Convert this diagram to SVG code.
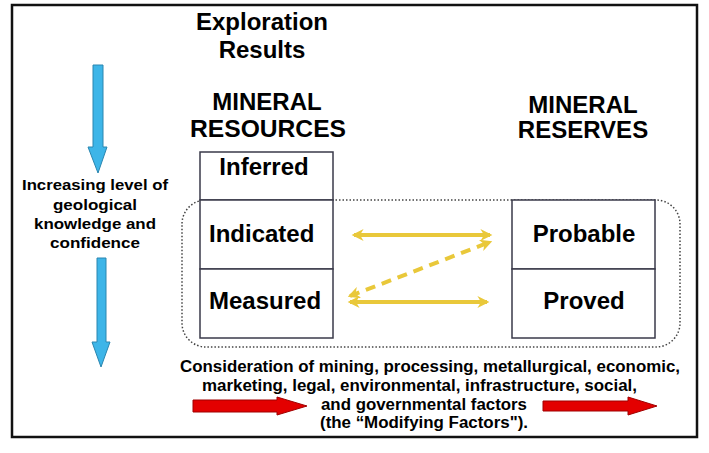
<svg xmlns="http://www.w3.org/2000/svg" width="709" height="453" viewBox="0 0 709 453">
<style>
.t{font-family:"Liberation Sans",Arial,sans-serif;font-weight:bold;fill:#000}
.h{font-size:24px}
.s{font-size:15px}
.b{font-size:16px}
.box{fill:#fff;stroke:#3a3a4a;stroke-width:1.5}
.blue{fill:#3db5e8;stroke:#2a86b0;stroke-width:1}
.red{fill:#e30000;stroke:#a00000;stroke-width:1}
.y{stroke:#e9c83a;stroke-width:4;fill:none}
</style>
<defs>
<marker id="ah" viewBox="0 0 10 10" refX="8" refY="5" markerWidth="3.2" markerHeight="3" orient="auto-start-reverse" markerUnits="strokeWidth">
<path d="M0,0 L10,5 L0,10 L3,5 Z" fill="#e9c83a"/>
</marker>
</defs>
<rect x="0" y="0" width="709" height="453" fill="#fff"/>
<rect id="frame" x="12" y="5" width="685" height="432" fill="none" stroke="#111" stroke-width="2.5"/>

<g id="title">
<text class="t h" x="262" y="30" text-anchor="middle">Exploration</text>
<text class="t h" x="262" y="58" text-anchor="middle">Results</text>
</g>
<g id="resources-head">
<text class="t h" x="267" y="110" text-anchor="middle">MINERAL</text>
<text class="t h" x="268" y="137" text-anchor="middle" textLength="156" lengthAdjust="spacingAndGlyphs">RESOURCES</text>
</g>
<g id="reserves-head">
<text class="t h" x="583" y="113" text-anchor="middle">MINERAL</text>
<text class="t h" x="583" y="138" text-anchor="middle">RESERVES</text>
</g>

<g id="confidence">
<path class="blue" d="M93,65 H103 V147 H107 L98,173 L88,147 H93 Z"/>
<text class="t s" x="22" y="190" textLength="146" lengthAdjust="spacingAndGlyphs">Increasing level of</text>
<text class="t s" x="53" y="210" textLength="84" lengthAdjust="spacingAndGlyphs">geological</text>
<text class="t s" x="34" y="229" textLength="122" lengthAdjust="spacingAndGlyphs">knowledge and</text>
<text class="t s" x="50" y="248" textLength="90" lengthAdjust="spacingAndGlyphs">confidence</text>
<path class="blue" d="M97,258 H106 V342 H110 L101,367 L92,342 H97 Z"/>
</g>

<rect id="group-outline" x="182" y="200" width="498" height="147" rx="24" ry="24" fill="none" stroke="#444" stroke-width="1.5" stroke-dasharray="1.5,2"/>

<g id="inferred">
<rect class="box" x="200" y="152" width="133" height="48"/>
<text class="t h" x="264" y="175" text-anchor="middle">Inferred</text>
</g>
<g id="indicated">
<rect class="box" x="200" y="200" width="133" height="69"/>
<text class="t h" x="209" y="242">Indicated</text>
</g>
<g id="measured">
<rect class="box" x="200" y="269" width="133" height="69"/>
<text class="t h" x="209" y="309">Measured</text>
</g>
<g id="probable">
<rect class="box" x="512" y="200" width="143" height="69"/>
<text class="t h" x="584" y="242" text-anchor="middle">Probable</text>
</g>
<g id="proved">
<rect class="box" x="512" y="269" width="143" height="69"/>
<text class="t h" x="584" y="309" text-anchor="middle">Proved</text>
</g>

<g id="connectors">
<line class="y" x1="354" y1="235" x2="490" y2="235" marker-start="url(#ah)" marker-end="url(#ah)"/>
<line class="y" x1="350" y1="302" x2="487" y2="302" marker-start="url(#ah)" marker-end="url(#ah)"/>
<line class="y" x1="350" y1="296" x2="490" y2="242" stroke-dasharray="10,7" marker-start="url(#ah)" marker-end="url(#ah)"/>
</g>

<g id="modifying-factors">
<text class="t b" x="180" y="372" textLength="500" lengthAdjust="spacingAndGlyphs">Consideration of mining, processing, metallurgical, economic,</text>
<text class="t b" x="202" y="391" textLength="435" lengthAdjust="spacingAndGlyphs">marketing, legal, environmental, infrastructure, social,</text>
<text class="t b" x="321" y="410" textLength="206" lengthAdjust="spacingAndGlyphs">and governmental factors</text>
<text class="t b" x="320" y="428" textLength="208" lengthAdjust="spacingAndGlyphs">(the “Modifying Factors").</text>
<path class="red" d="M193,400 H277 V397 L307,406 L277,415 V412 H193 Z"/>
<path class="red" d="M543,401 H628 V397 L657,406 L628,415 V411 H543 Z"/>
</g>
</svg>
